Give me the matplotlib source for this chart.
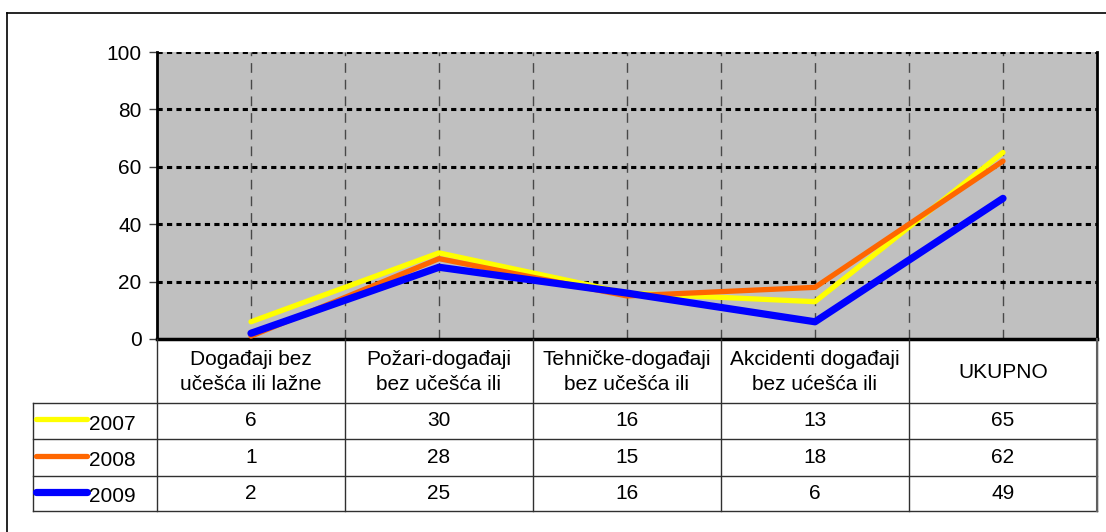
import matplotlib.pyplot as plt

plt.rcParams["font.family"] = ["Liberation Sans", "DejaVu Sans"]

# data
categories = [
    "Događaji bez\nučešća ili lažne",
    "Požari-događaji\nbez učešća ili",
    "Tehničke-događaji\nbez učešća ili",
    "Akcidenti događaji\nbez ućešća ili",
    "UKUPNO",
]
years = ["2007", "2008", "2009"]
v2007 = [6, 30, 16, 13, 65]
v2008 = [1, 28, 15, 18, 62]
v2009 = [2, 25, 16, 6, 49]
yticks = [0, 20, 40, 60, 80, 100]

series = [v2007, v2008, v2009]
colors = ["#FFFF00", "#FF6600", "#0000FF"]
widths = [3.8, 3.8, 5.2]

W, H = 1106, 532
fig = plt.figure(figsize=(W / 100, H / 100), dpi=100)

# plot area in pixels
x0, x1 = 157, 1097
y_top, y_bot = 52, 339
ax = fig.add_axes([x0 / W, (H - y_bot) / H, (x1 - x0) / W, (y_bot - y_top) / H])
ax.set_facecolor("#C0C0C0")
n = len(categories)
ax.set_xlim(0, n)
ax.set_ylim(0, 100)

# grid
for k in range(1, 2 * n):
    ax.axvline(k / 2, color="#484848", lw=1.0, dashes=(7, 5), zorder=1)
for t in yticks[1:]:
    ax.axhline(t, color="black", lw=2.2, dashes=(1.7, 1.4), zorder=1)

xs = [i + 0.5 for i in range(n)]
for vals, c, lw in zip(series, colors, widths):
    ax.plot(xs, vals, color=c, lw=lw, solid_capstyle="round",
            solid_joinstyle="round", zorder=3)

ax.set_xticks([])
ax.set_yticks(yticks)
ax.tick_params(axis="y", length=6, width=1, color="#404040", pad=5, labelsize=15)
ax.spines["top"].set_visible(False)
ax.spines["left"].set_linewidth(2)
ax.spines["right"].set_linewidth(2)
ax.spines["bottom"].set_linewidth(2.5)

# overlay in pixel coordinates for the data table and frame
tab = fig.add_axes([0, 0, 1, 1])
tab.set_xlim(0, W)
tab.set_ylim(H, 0)
tab.axis("off")
tab.patch.set_alpha(0)

# outer frame (runs off right and bottom edge)
tab.plot([7, 7], [13, H + 5], color="black", lw=1.2)
tab.plot([7, W + 5], [13, 13], color="black", lw=1.2)

col_w = (x1 - x0) / n
col_edges = [x0 + i * col_w for i in range(n + 1)]
leg_left = 33
row_edges = [339, 403, 439, 476, 511]
line_c = "#303030"

# horizontal table lines
for ry in row_edges[1:]:
    tab.plot([leg_left, x1], [ry, ry], color=line_c, lw=1.0)
# vertical table lines
for cx in col_edges:
    tab.plot([cx, cx], [row_edges[0], row_edges[-1]], color=line_c, lw=1.0)
tab.plot([leg_left, leg_left], [row_edges[1], row_edges[-1]], color=line_c, lw=1.0)
tab.plot([x1, x1], [row_edges[0], row_edges[-1]], color="#606060", lw=1.5)

# header cells
hy = (row_edges[0] + row_edges[1]) / 2
for i, lab in enumerate(categories):
    tab.text(col_edges[i] + col_w / 2, hy + 1, lab, ha="center", va="center",
             fontsize=15, linespacing=1.35)

# data rows with legend keys
for r, (yr, vals, c, lw) in enumerate(zip(years, series, colors, widths)):
    cy = (row_edges[r + 1] + row_edges[r + 2]) / 2
    tab.plot([36, 87], [cy - 2, cy - 2], color=c, lw=lw, solid_capstyle="round")
    tab.text(89, cy + 3, yr, ha="left", va="center", fontsize=15)
    for i, v in enumerate(vals):
        tab.text(col_edges[i] + col_w / 2, cy, str(v), ha="center", va="center",
                 fontsize=15)

fig.savefig("out.png", dpi=100)
